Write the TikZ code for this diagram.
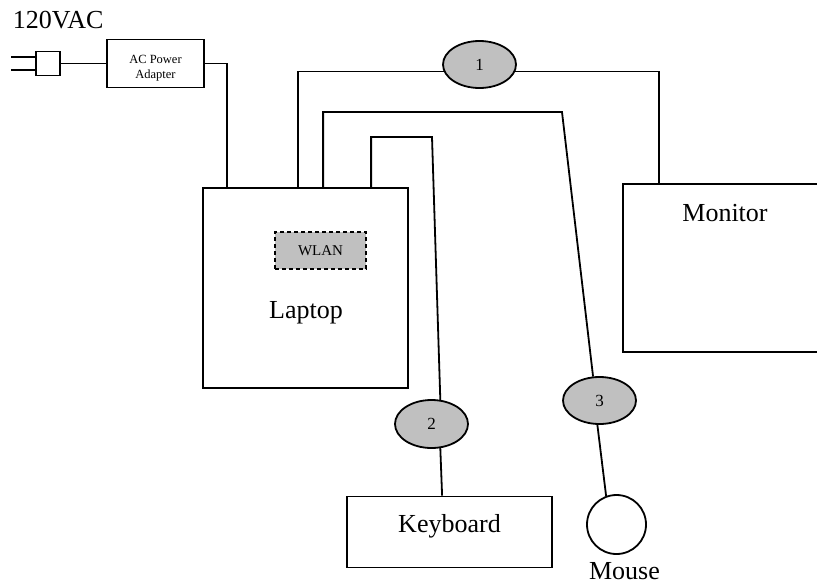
\documentclass[tikz,border=0pt]{standalone}
\usepackage{fontspec}
\setmainfont{Liberation Serif}
\usetikzlibrary{shapes.geometric,calc}
\definecolor{portgray}{HTML}{C0C0C0}
\begin{document}
\begin{tikzpicture}[x=1pt,y=-1pt,
  line width=1.8pt,
  box/.style={draw, rectangle, inner sep=0pt, line width=1.8pt},
  port/.style={draw, ellipse, fill=portgray, minimum width=73pt, minimum height=47pt, inner sep=0pt, line width=1.8pt, font=\fontsize{17}{20}\selectfont},
  big/.style={font=\fontsize{26}{30}\selectfont, inner sep=0pt},
  cable/.style={draw, line width=1.8pt}]
\useasboundingbox (0,0) rectangle (817,584);

% texts
\node[big, anchor=base west] (vac) at (12,28) {120VAC};

% plug and adapter
\node[box, minimum size=24pt] (plug) at (48,63.5) {};
\coordinate (pa) at (11,57);
\coordinate (pb) at (11,70);
\draw[cable] (pa) -- (pa -| plug.west);
\draw[cable] (pb) -- (pb -| plug.west);
\node[box, minimum width=97pt, minimum height=48pt] (adapter) at (155.5,63.5) {};
\node[inner sep=0pt, align=center, font=\fontsize{12.5}{14.5}\selectfont] (adtext) at (155.5,68) {AC Power\\Adapter};
\draw[cable] (plug.east) -- (adapter.west);

% laptop
\node[box, minimum width=205pt, minimum height=200pt] (laptop) at (305.5,288) {};
\node[draw, dashed, dash pattern=on 4pt off 3pt, fill=portgray, minimum width=91pt, minimum height=37pt, inner sep=0pt, line width=1.6pt, font=\fontsize{15}{15}\selectfont] (wlan) at (320.5,250.5) {WLAN};
\node[big, anchor=base] (laptoptext) at (306,318) {Laptop};

% monitor
\node[box, minimum width=217pt, minimum height=168pt] (monitor) at (731.5,268) {};
\node[big, anchor=base] (montext) at (725,221) {Monitor};

% keyboard
\node[box, minimum width=205pt, minimum height=71pt] (keyboard) at (449.5,532) {};
\node[big, anchor=base] (kbtext) at (449.5,532) {Keyboard};

% mouse
\node[draw, circle, minimum size=59pt, inner sep=0pt, line width=1.8pt] (mouse) at (616.5,524.5) {};
\node[big, anchor=base] (mousetext) at (624.5,579.5) {Mouse};

% ports
\node[port] (e1) at (479.5,64.5) {1};
\node[port, minimum height=48pt] (e2) at (431.5,424) {2};
\node[port] (e3) at (599.5,400.5) {3};

% power cable
\draw[cable] (adapter.east) -| ($(laptop.north west)+(25,0)$);

% monitor cable
\draw[cable] ($(laptop.north west)+(96,0)$) |- (e1.191);
\draw[cable] (e1.349) -| ($(monitor.north west)+(37,0)$);

% mouse cable
\coordinate (m1) at (562,112);
\draw[cable] ($(laptop.north west)+(121,0)$) |- (m1) -- (e3.105);
\draw[cable] (e3.265) -- (mouse.110);

% keyboard cable
\coordinate (k1) at (432,137);
\draw[cable] ($(laptop.north west)+(169,0)$) |- (k1) -- (e2.70);
\draw[cable] (e2.-70) -- ($(keyboard.north west)+(96,0)$);
\end{tikzpicture}
\end{document}
